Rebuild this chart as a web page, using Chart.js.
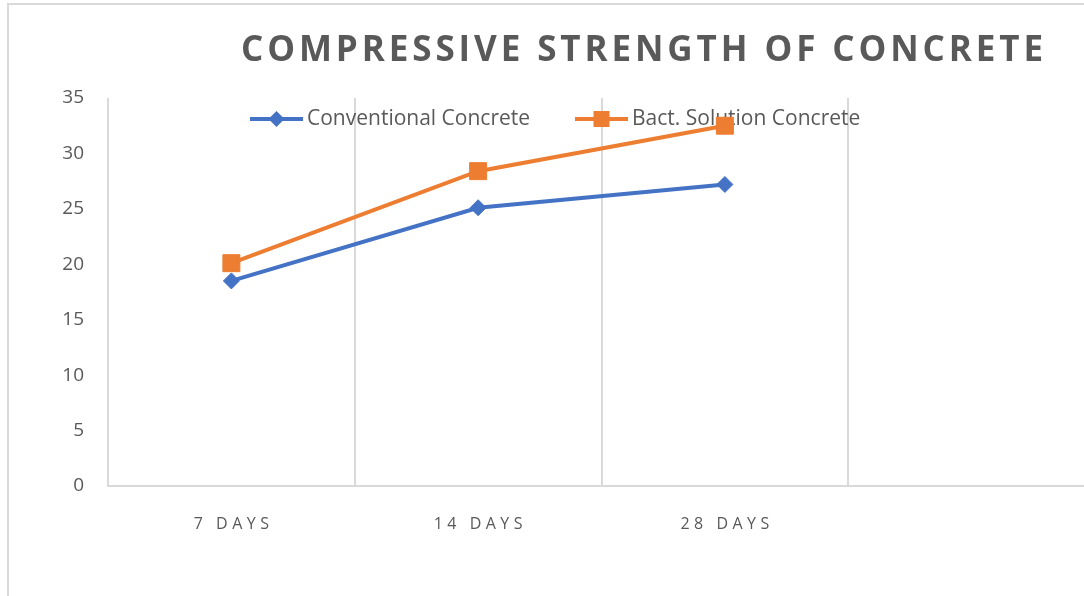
<!DOCTYPE html>
<html>
<head>
<meta charset="utf-8">
<script src="https://cdn.jsdelivr.net/npm/chart.js@4/dist/chart.umd.min.js"></script>
<style>
  html, body { margin: 0; padding: 0; background: #ffffff; overflow: hidden; width: 1084px; height: 596px; }
  #frame { position: absolute; left: 7px; top: 3px; width: 1200px; height: 700px; border-left: 2px solid #d9d9d9; border-top: 2px solid #d9d9d9; }
  #c { position: absolute; left: 0; top: 0; }
</style>
</head>
<body>
<div id="frame"></div>
<canvas id="c" width="1108" height="596"></canvas>
<script>
const chartTitle = 'COMPRESSIVE STRENGTH OF CONCRETE';
const categories = ['7 DAYS', '14 DAYS', '28 DAYS', ''];
const seriesNames = ['Conventional Concrete', 'Bact. Solution Concrete'];
const conventional = [18.5, 25.1, 27.2, null];
const bacterial = [20.1, 28.4, 32.5, null];
const yTicks = [0, 5, 10, 15, 20, 25, 30, 35];

const BLUE = '#4472C4';
const ORANGE = '#ED7D31';
const TEXT = '#595959';
const GRID = '#d9d9d9';

const overlay = {
  id: 'overlay',
  beforeDatasetsDraw(chart) {
    const ctx = chart.ctx;
    const xs = chart.scales.x;
    ctx.save();
    ctx.font = '16px "Open Sans"';
    ctx.fillStyle = TEXT;
    ctx.textAlign = 'center';
    ctx.textBaseline = 'middle';
    ctx.letterSpacing = '4.5px';
    categories.forEach((lab, i) => {
      if (!lab) return;
      ctx.fillText(lab, xs.getPixelForValue(i) + 2.25, 524);
    });
    ctx.restore();

    ctx.save();
    const items = [
      { x: 250, color: BLUE, style: 'diamond', text: seriesNames[0] },
      { x: 575, color: ORANGE, style: 'square', text: seriesNames[1] }
    ];
    const ly = 119;
    items.forEach(it => {
      ctx.strokeStyle = it.color;
      ctx.lineWidth = 4;
      ctx.beginPath();
      ctx.moveTo(it.x, ly);
      ctx.lineTo(it.x + 53, ly);
      ctx.stroke();
      const mx = it.x + 26.5;
      ctx.fillStyle = it.color;
      ctx.beginPath();
      if (it.style === 'diamond') {
        ctx.moveTo(mx, ly - 8); ctx.lineTo(mx + 8, ly); ctx.lineTo(mx, ly + 8); ctx.lineTo(mx - 8, ly);
      } else {
        ctx.rect(mx - 8, ly - 8, 16, 16);
      }
      ctx.closePath();
      ctx.fill();
      ctx.font = '21px "Open Sans"';
      ctx.fillStyle = TEXT;
      ctx.textAlign = 'left';
      ctx.textBaseline = 'middle';
      ctx.fillText(it.text, it.x + 57, ly);
    });
    ctx.restore();
  },
  afterDraw(chart) {
    const ctx = chart.ctx;
    ctx.save();
    ctx.font = 'bold 35px "Open Sans"';
    ctx.fillStyle = TEXT;
    ctx.textAlign = 'left';
    ctx.textBaseline = 'middle';
    ctx.letterSpacing = '0px';
    const w = ctx.measureText(chartTitle).width;
    const sp = Math.max(0, (802 - w) / (chartTitle.length - 1));
    ctx.letterSpacing = sp + 'px';
    ctx.fillText(chartTitle, 241, 51);
    ctx.restore();
  }
};

new Chart(document.getElementById('c'), {
  type: 'line',
  data: {
    labels: categories,
    datasets: [
      {
        label: seriesNames[0],
        data: conventional,
        borderColor: BLUE,
        backgroundColor: BLUE,
        borderWidth: 4,
        pointStyle: 'rectRot',
        pointRadius: 8,
        pointBorderWidth: 1,
        pointBackgroundColor: BLUE,
        pointBorderColor: BLUE,
        tension: 0,
        spanGaps: false
      },
      {
        label: seriesNames[1],
        data: bacterial,
        borderColor: ORANGE,
        backgroundColor: ORANGE,
        borderWidth: 4,
        pointStyle: 'rect',
        pointRadius: 12,
        pointBorderWidth: 1,
        pointBackgroundColor: ORANGE,
        pointBorderColor: ORANGE,
        tension: 0,
        spanGaps: false
      }
    ]
  },
  options: {
    responsive: false,
    animation: false,
    devicePixelRatio: 1,
    layout: { padding: { top: 98, right: 6, left: 0, bottom: 0 } },
    plugins: {
      legend: { display: false },
      title: { display: false },
      tooltip: { enabled: false }
    },
    scales: {
      x: {
        type: 'category',
        offset: true,
        grid: { display: true, offset: true, color: GRID, lineWidth: 2, drawTicks: false },
        border: { display: true, color: GRID, width: 2 },
        ticks: { display: false },
        afterFit(scale) { scale.height = 110; }
      },
      y: {
        min: 0,
        max: 35,
        afterBuildTicks(scale) { scale.ticks = yTicks.map(v => ({ value: v })); },
        grid: { display: false, drawTicks: false },
        border: { display: false },
        ticks: {
          color: TEXT,
          font: { family: 'Open Sans', size: 19 },
          padding: 24
        },
        afterFit(scale) { scale.width = 108; }
      }
    }
  },
  plugins: [overlay]
});
</script>
</body>
</html>
